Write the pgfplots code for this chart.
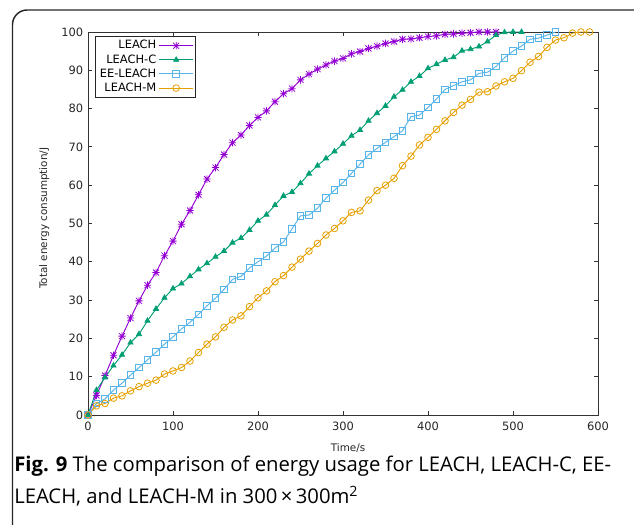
\documentclass[border=0pt]{standalone}
\usepackage{fontspec}
\setmainfont{Open Sans}
\newfontfamily\dv{DejaVu Sans}
\usepackage{pgfplots}
\pgfplotsset{compat=1.18}

\definecolor{cLeach}{HTML}{9400D3}
\definecolor{cLeachC}{HTML}{009E73}
\definecolor{cEE}{HTML}{56B4E9}
\definecolor{cLeachM}{HTML}{E69F00}

% gnuplot-style asterisk (+ and x together)
\pgfdeclareplotmark{gstar}{%
  \pgfpathmoveto{\pgfqpoint{-\pgfplotmarksize}{0pt}}\pgfpathlineto{\pgfqpoint{\pgfplotmarksize}{0pt}}%
  \pgfpathmoveto{\pgfqpoint{0pt}{-\pgfplotmarksize}}\pgfpathlineto{\pgfqpoint{0pt}{\pgfplotmarksize}}%
  \pgfpathmoveto{\pgfqpoint{-.8\pgfplotmarksize}{-.8\pgfplotmarksize}}\pgfpathlineto{\pgfqpoint{.8\pgfplotmarksize}{.8\pgfplotmarksize}}%
  \pgfpathmoveto{\pgfqpoint{-.8\pgfplotmarksize}{.8\pgfplotmarksize}}\pgfpathlineto{\pgfqpoint{.8\pgfplotmarksize}{-.8\pgfplotmarksize}}%
  \pgfusepathqstroke}

\begin{document}
\begin{tikzpicture}[x=0.75pt,y=0.75pt]
\useasboundingbox (0,0) rectangle (634,524);
\draw[line width=1.1pt, black!85, rounded corners=11pt] (12.5,514) rectangle (650,-20);

\begin{axis}[
  at={(66pt,81.75pt)}, anchor=south west,
  scale only axis, width=382.5pt, height=287.25pt,
  xmin=0, xmax=600, ymin=0, ymax=100,
  xtick={0,100,...,600}, ytick={0,10,...,100},
  tick align=inside, major tick length=3pt,
  axis line style={black!80, line width=0.7pt},
  tick style={black!80, line width=0.6pt},
  /pgf/number format/assume math mode=true,
  tick label style={font=\dv\fontsize{8.6}{9}\selectfont, black!85},
  xticklabel style={yshift=-2pt},
  label style={font=\dv\fontsize{7.8}{9}\selectfont, black!85},
  xlabel={Time/s},
  ylabel={Total energy consumption/J},
  xlabel style={at={(axis description cs:0.51,-0.086)}, anchor=center},
  ylabel style={at={(axis description cs:-0.086,0.514)}, anchor=center},
  clip=false,
  every axis plot/.append style={line width=0.7pt, mark options={solid, line width=0.6pt}},
  legend style={at={(axis description cs:0.014,0.99)}, anchor=north west,
    font=\dv\fontsize{8.6}{9}\selectfont, draw=black!85, line width=0.6pt,
    inner sep=1.2pt, row sep=-1.3pt},
  legend plot pos=right, legend cell align=right,
  legend image code/.code={\draw[mark repeat=2, mark phase=2] plot coordinates {(0cm,0cm) (0.44cm,0cm) (0.88cm,0cm)};},
]
\addplot[cLeach, mark=gstar, mark size=2.8pt] coordinates {
(0,0) (10,5.1) (20,10.3) (30,15.6) (40,20.6) (50,25.3) (60,29.8) (70,33.9) (80,37.2) (90,41.6)
(100,45.4) (110,49.8) (120,53.4) (130,57.5) (140,61.6) (150,64.6) (160,68) (170,71.1) (180,73.1) (190,75.6)
(200,77.7) (210,79.4) (220,81.8) (230,83.9) (240,85.2) (250,87.5) (260,89) (270,90.3) (280,91.4) (290,92.4)
(300,93.1) (310,94.3) (320,94.9) (330,95.7) (340,96.3) (350,97) (360,97.5) (370,98.1) (380,98.2) (390,98.5)
(400,98.8) (410,99) (420,99.4) (430,99.5) (440,99.7) (450,99.8) (460,100) (470,100) (480,100)};
\addlegendentry{LEACH}
\addplot[cLeachC, mark=triangle*, mark size=2.2pt] coordinates {
(0,0) (10,6.5) (20,9.8) (30,12.9) (40,15.7) (50,18.9) (60,21.1) (70,24.6) (80,27.7) (90,30.6)
(100,33) (110,34.3) (120,36.2) (130,38) (140,39.6) (150,41.3) (160,42.8) (170,45) (180,46.2) (190,48.3)
(200,50.7) (210,52.3) (220,54.8) (230,57.2) (240,58.2) (250,60.5) (260,63) (270,65.1) (280,67) (290,68.8)
(300,70.8) (310,72.9) (320,74.4) (330,76.8) (340,78.8) (350,80.7) (360,83.1) (370,84.9) (380,87) (390,88.5)
(400,90.5) (410,91.6) (420,92.7) (430,93.4) (440,95.1) (450,95.5) (460,96.2) (470,97.5) (480,99.2) (490,99.9)
(500,100) (510,100)};
\addlegendentry{LEACH-C}
\addplot[cEE, mark=square, mark size=2.5pt] coordinates {
(0,0) (10,3) (20,4.2) (30,6.5) (40,8.3) (50,10.4) (60,12.4) (70,14.4) (80,16.4) (90,18.5)
(100,20.4) (110,22.5) (120,24.2) (130,26.3) (140,28.5) (150,30.5) (160,32.8) (170,35.4) (180,36.2) (190,38.4)
(200,40) (210,41.5) (220,43.6) (230,45.2) (240,48.6) (250,52) (260,52.2) (270,54) (280,56.6) (290,58.7)
(300,60.7) (310,63.1) (320,65.5) (330,67.9) (340,69.6) (350,71.2) (360,72.7) (370,74.2) (380,77.9) (390,78.3)
(400,80.3) (410,82.5) (420,85) (430,86) (440,87) (450,87.5) (460,89.2) (470,89.5) (480,91) (490,93.3)
(500,95) (510,96.3) (520,98.1) (530,98.4) (540,99.2) (550,100)};
\addlegendentry{EE-LEACH}
\addplot[cLeachM, mark=o, mark size=2.5pt] coordinates {
(0,0) (10,2.4) (20,3) (30,4.4) (40,5) (50,6.3) (60,7.4) (70,8.3) (80,9.1) (90,10.7)
(100,11.5) (110,12.4) (120,14.1) (130,16.3) (140,18.5) (150,20.4) (160,22.9) (170,24.8) (180,25.9) (190,28.3)
(200,30.6) (210,32.4) (220,34.8) (230,36.4) (240,38.6) (250,40.7) (260,42.8) (270,44.8) (280,47) (290,48.7)
(300,50.7) (310,52.9) (320,53.3) (330,56.1) (340,58.6) (350,60) (360,61.8) (370,65.1) (380,67.6) (390,70.5)
(400,72.5) (410,74.6) (420,76.8) (430,79) (440,80.9) (450,82.4) (460,84.3) (470,84.4) (480,85.9) (490,87)
(500,87.9) (510,89.9) (520,92.1) (530,93.6) (540,96) (550,97.9) (560,98.5) (570,99.7) (580,100) (590,100)};
\addlegendentry{LEACH-M}
\end{axis}

\node[anchor=base west, inner sep=0pt, font=\fontsize{15.2}{17}\selectfont] at (14,53)
  {\textbf{Fig. 9} The comparison of energy usage for LEACH, LEACH-C, EE-};
\node[anchor=base west, inner sep=0pt, font=\fontsize{15.2}{17}\selectfont] at (14,21)
  {LEACH, and LEACH-M in 300\,×\,300m\textsuperscript{2}};
\end{tikzpicture}
\end{document}
